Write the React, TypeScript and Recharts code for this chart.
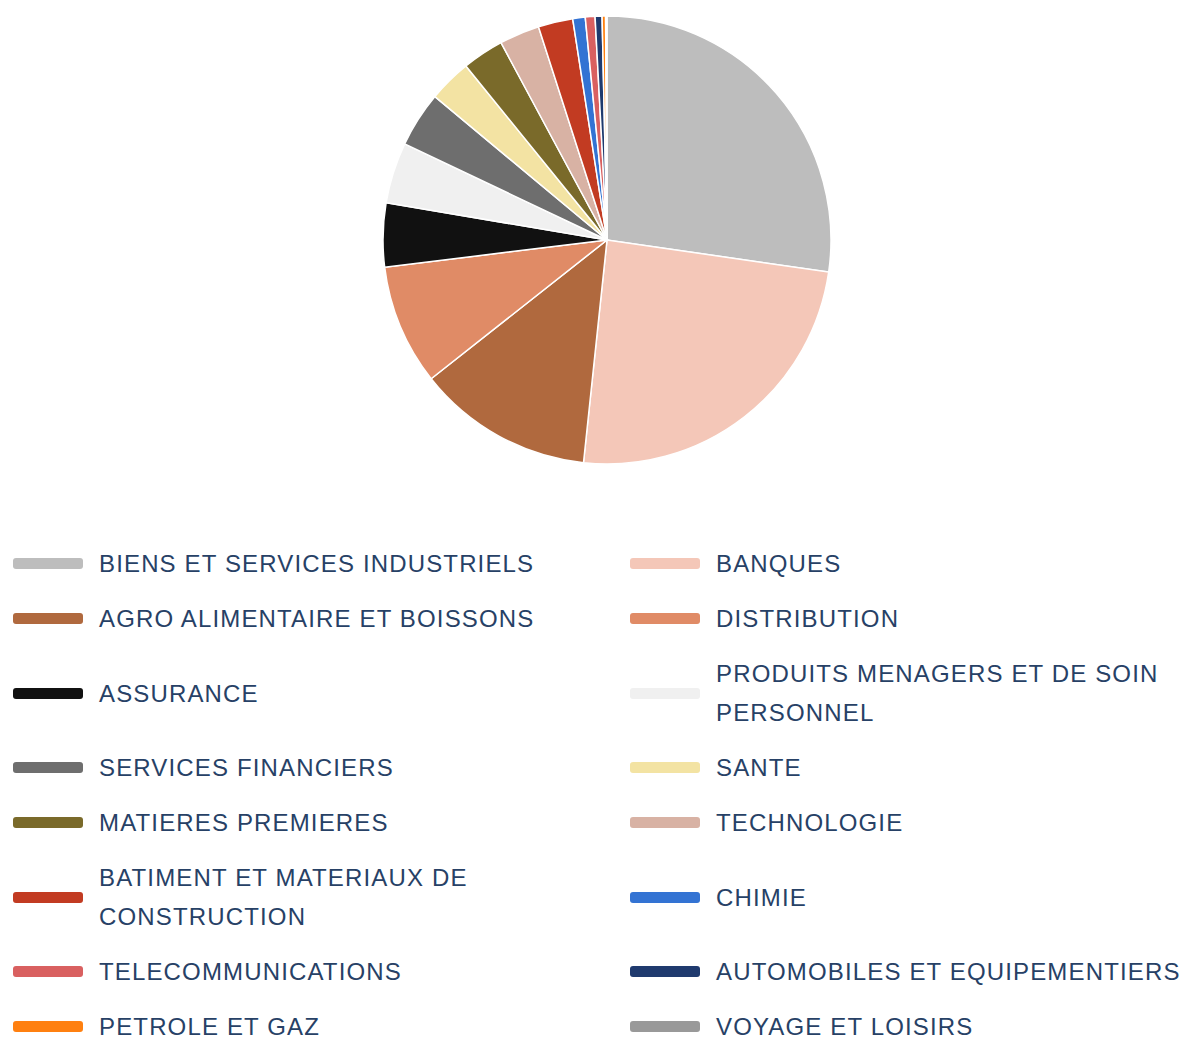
import React from "react";
import { PieChart, Pie, Cell, Legend } from "recharts";

const sectors = [
  "BIENS ET SERVICES INDUSTRIELS",
  "BANQUES",
  "AGRO ALIMENTAIRE ET BOISSONS",
  "DISTRIBUTION",
  "ASSURANCE",
  "PRODUITS MENAGERS ET DE SOIN PERSONNEL",
  "SERVICES FINANCIERS",
  "SANTE",
  "MATIERES PREMIERES",
  "TECHNOLOGIE",
  "BATIMENT ET MATERIAUX DE CONSTRUCTION",
  "CHIMIE",
  "TELECOMMUNICATIONS",
  "AUTOMOBILES ET EQUIPEMENTIERS",
  "PETROLE ET GAZ",
  "VOYAGE ET LOISIRS",
];

const weights = [27.3, 24.4, 12.7, 8.7, 4.6, 4.4, 4.0, 3.1, 3.0, 2.9, 2.5, 0.9, 0.7, 0.5, 0.25, 0.1];

const colors = [
  "#bdbdbd",
  "#f4c7b8",
  "#b0693e",
  "#e08b66",
  "#111111",
  "#f0f0f0",
  "#6e6e6e",
  "#f3e3a3",
  "#7a6a2a",
  "#d8b2a4",
  "#c23b22",
  "#3373d3",
  "#d96060",
  "#1f3a6e",
  "#ff8010",
  "#999999",
];

const data = sectors.map((name, i) => ({ name, value: weights[i] }));

const LegendContent = () => (
  <div
    style={{
      display: "grid",
      gridTemplateColumns: "617px 572px",
      fontFamily: "'Liberation Sans', Arial, sans-serif",
      fontSize: 24,
      letterSpacing: 1.15,
      color: "#274166",
    }}
  >
    {sectors.map((name, i) => (
      <div
        key={name}
        style={{
          display: "flex",
          alignItems: "center",
          padding: "8px 0 8px 13px",
          lineHeight: "39px",
        }}
      >
        <div
          style={{
            width: 70,
            height: 11,
            borderRadius: 3,
            background: colors[i],
            flexShrink: 0,
            marginRight: 16,
          }}
        />
        <div style={{ maxWidth: i % 2 === 0 ? 505 : 472 }}>{name}</div>
      </div>
    ))}
  </div>
);

export default function App() {
  return (
    <div style={{ position: "absolute", left: 0, top: 0, background: "#fff" }}>
      <PieChart width={1189} height={1041} margin={{ top: 0, right: 0, bottom: 0, left: 0 }}>
        <Pie
          data={data}
          dataKey="value"
          nameKey="name"
          cx={607}
          cy={240}
          outerRadius={224}
          startAngle={90}
          endAngle={-270}
          stroke="#ffffff"
          strokeWidth={1.5}
          isAnimationActive={false}
        >
          {data.map((d, i) => (
            <Cell key={d.name} fill={colors[i]} />
          ))}
        </Pie>
        <Legend
          content={<LegendContent />}
          wrapperStyle={{ position: "absolute", left: 0, top: 536, width: 1189 }}
        />
      </PieChart>
    </div>
  );
}
